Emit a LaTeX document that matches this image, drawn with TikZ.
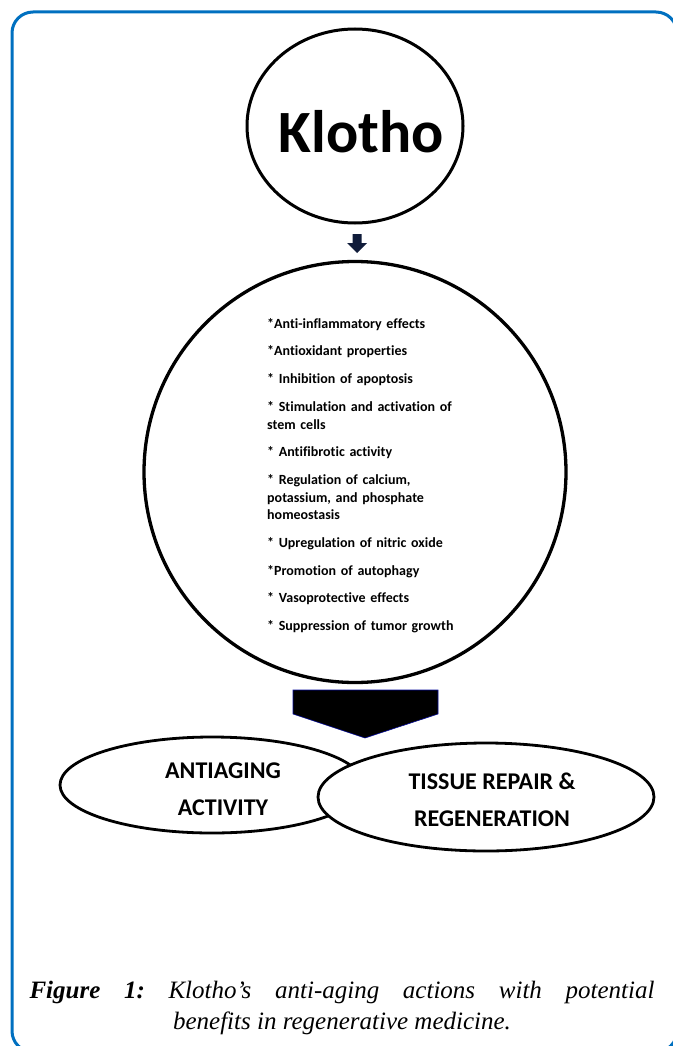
\documentclass[tikz,border=0pt]{standalone}
\usepackage{fontspec}
\setmainfont{Liberation Serif}
\newfontfamily\calibri[Ligatures=NoCommon]{Carlito}
\usetikzlibrary{shapes.geometric}
\definecolor{frameblue}{RGB}{0,112,192}
\definecolor{arrownavy}{RGB}{16,28,58}

\begin{document}
\frenchspacing
\begin{tikzpicture}[
  x=1pt,y=-1pt,
  ring/.style={ellipse,draw,line width=3pt,inner sep=0pt},
  oval/.style={ellipse,draw,fill=white,line width=2.8pt,inner sep=0pt},
  heading/.style={font=\calibri\bfseries\fontsize{24}{37}\selectfont,align=center},
  effect/.style={font=\calibri\bfseries\fontsize{14}{17.7}\selectfont,align=left,text width=300pt,inner sep=0pt}
]
\useasboundingbox (0,0) rectangle (672,1046);
\draw[frameblue,line width=3pt,rounded corners=21pt] (12,12) rectangle (677,1052);

\node[ring,minimum width=216pt,minimum height=194pt] (klotho) at (355,126) {};
\node[font=\calibri\bfseries\fontsize{60}{60}\selectfont] (name) at (361,132) {Klotho};
\node[ring,line width=3.3pt,minimum width=422pt,minimum height=421pt] (effects) at (355,472) {};
\node[effect,anchor=north west] (list) at (267,318) {%
  *Anti-inflammatory effects\\[10pt]
  *Antioxidant properties\\[10pt]
  * Inhibition of apoptosis\\[10pt]
  * Stimulation and activation of\\stem cells\\[10pt]
  * Antifibrotic activity\\[10pt]
  * Regulation of calcium,\\potassium, and phosphate\\homeostasis\\[10pt]
  * Upregulation of nitric oxide\\[10pt]
  *Promotion of autophagy\\[10pt]
  * Vasoprotective effects\\[10pt]
  * Suppression of tumor growth};

\coordinate (tip) at (357,253);
\fill[arrownavy] (tip) -- ++(-10,-10) -- ++(5.5,0) -- ++(0,-9) -- ++(9,0) -- ++(0,9) -- ++(5.5,0) -- cycle;

\node[oval,minimum width=304pt,minimum height=96pt] (aging) at (212,785) {};
\node[oval,minimum width=336pt,minimum height=108pt] (repair) at (486,797) {};
\node[heading] (agingtext) at (223,789) {ANTIAGING\\ACTIVITY};
\node[heading] (repairtext) at (492,800) {TISSUE REPAIR \&\\REGENERATION};

\coordinate (bigtip) at (365,738);
\filldraw[fill=black,draw=arrownavy!50!blue,line width=0.6pt] (bigtip) -- ++(-72,-24) -- ++(0,-24) -- ++(145,0) -- ++(0,24) -- cycle;

\node[font=\itshape\fontsize{25}{31}\selectfont,align=center,inner sep=0pt] (caption) at (342,1008)
  {\makebox[625pt][s]{\textbf{Figure 1:} Klotho’s anti-aging actions with potential}\\benefits in regenerative medicine.};
\end{tikzpicture}
\end{document}
